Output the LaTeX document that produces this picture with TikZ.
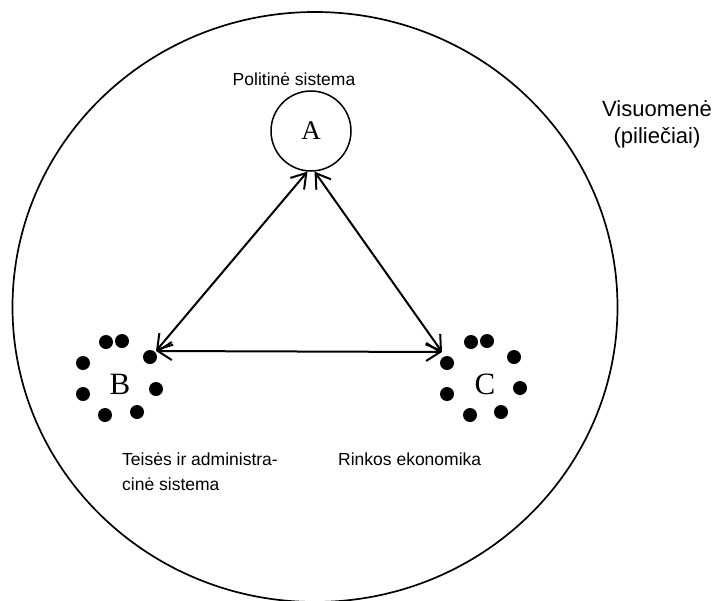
\documentclass[tikz,border=0pt]{standalone}
\usepackage{fontspec}
\setmainfont{Liberation Serif}
\setsansfont{Liberation Sans}
\usetikzlibrary{arrows.meta}

\begin{document}
\begin{tikzpicture}[
    x=1pt, y=-1pt,
    systxt/.style={font=\sffamily\fontsize{17.5}{25}\selectfont, align=left, inner sep=0pt},
    letter/.style={font=\fontsize{31}{31}\selectfont, inner sep=0pt},
    dot/.style={circle, fill=black, inner sep=0pt, minimum size=14pt},
    arrow/.style={{Straight Barb[length=14pt,width=18pt]}-{Straight Barb[length=14pt,width=18pt]}, line width=2pt}
]
    \useasboundingbox (0,0) rectangle (712,600);

    % Society
    \begin{scope}
        \clip (0,0) rectangle (712,600);
        \draw[line width=1.7pt] (315,307) ellipse [x radius=302.5, y radius=295];
    \end{scope}
    \node[font=\sffamily\fontsize{22}{27}\selectfont, align=center, anchor=north] (soc) at (657,97) {Visuomenė\\(piliečiai)};

    % Political system
    \node[draw, circle, line width=1.5pt, minimum size=80pt, inner sep=0pt, font=\fontsize{27}{27}\selectfont] (A) at (311,131) {A};
    \node[systxt] (pol) at (294,79) {Politinė sistema};

    % Legal and administrative system
    \node[letter] (B) at (120,384) {B};
    \foreach \x/\y [count=\i] in {106/342, 122/341, 83/363, 150/357, 83/394, 156/389, 105/415, 137/412}
        \node[dot] (b\i) at (\x,\y) {};
    \node[systxt, anchor=north west] (law) at (122,453) {Teisės ir administra-\\cinė sistema};

    % Market economy
    \node[letter] (C) at (485,384) {C};
    \foreach \x/\y [count=\i] in {471/342, 487/341, 514/357, 447/363, 520/388, 447/394, 470/415, 501/412}
        \node[dot] (c\i) at (\x,\y) {};
    \node[systxt, anchor=north west] (mkt) at (338,453) {Rinkos ekonomika};

    % Arrows
    \coordinate (bt) at (156,351);
    \coordinate (ct) at (442,352);
    \draw[arrow] (A.265) -- (bt);
    \draw[arrow] (A.275) -- (ct);
    \draw[arrow] (bt) -- (ct);
\end{tikzpicture}
\end{document}
